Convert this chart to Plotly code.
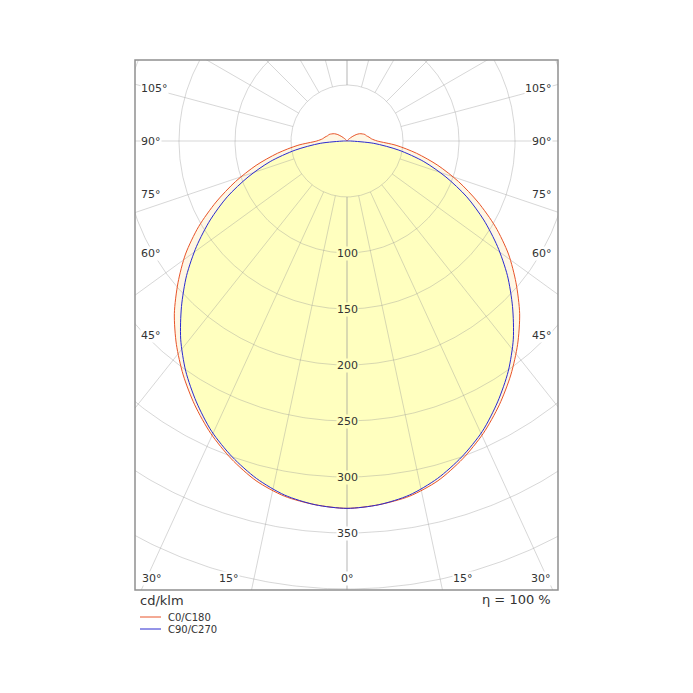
import numpy as np
import plotly.graph_objects as go

# ---------------- data (cd/klm) ----------------
gamma = list(range(0, 181, 5))
c0_c180 = [328, 326, 322, 314, 302, 288, 272, 255, 237, 218, 197, 176, 153, 129,
           106, 84, 63, 44, 27, 22, 20, 18, 17, 15, 13, 10, 6, 3, 1,
           0, 0, 0, 0, 0, 0, 0, 0]
c90_c270 = [328, 326, 321, 312, 300, 286, 269, 251, 231, 209, 187, 164, 141, 118,
            94, 71, 47, 24, 3, 0, 0, 0, 0, 0, 0, 0, 0, 0, 0,
            0, 0, 0, 0, 0, 0, 0, 0]
ring_labels = [100, 150, 200, 250, 300, 350]
side_labels = ["105°", "90°", "75°", "60°", "45°"]
bottom_labels = ["30°", "15°", "0°", "15°", "30°"]
series_names = ["C0/C180", "C90/C270"]
series_colors = ["#e8542a", "#2b2bd0"]

# ---------------- geometry helpers ----------------
def closed_curve(vals):
    g = np.radians(np.array(gamma, dtype=float))
    r = np.array(vals, dtype=float)
    xr, yr = r * np.sin(g), -r * np.cos(g)
    xl, yl = -(r * np.sin(g))[::-1], (-r * np.cos(g))[::-1]
    return np.concatenate([xr, xl]), np.concatenate([yr, yl])

OFF = 8  # default body margin of the page
W = H = 693 - OFF
L, R, T, B = 135, 558, 60, 590  # target pixel box in the window
scale = 1.12  # px per cd/klm
cx, cy = 347, 141
xr0, xr1 = (L - cx) / scale, (R - cx) / scale
yr0, yr1 = -(B - cy) / scale, -(T - cy) / scale

fig = go.Figure()

fills = [("rgba(255,247,228,1)", c0_c180), ("rgb(255,255,191)", c90_c270)]
for col, vals in fills:
    x, y = closed_curve(vals)
    fig.add_trace(go.Scatter(x=x, y=y, mode="lines", fill="toself", fillcolor=col,
                             line=dict(width=0, shape="spline", smoothing=0.8),
                             hoverinfo="skip", showlegend=False))

grid_col = "rgba(150,150,150,0.38)"
t = np.linspace(0, 2 * np.pi, 721)
for rr in range(50, 501, 50):
    fig.add_trace(go.Scatter(x=rr * np.cos(t), y=rr * np.sin(t), mode="lines",
                             line=dict(color=grid_col, width=1), hoverinfo="skip", showlegend=False))

# radial grid: upper half every 15 deg; lower half drawn with the stretched
# spacing seen in the reference
ray_dirs = []
for a in range(90, 181, 15):
    ar = np.radians(a)
    ray_dirs += [(np.sin(ar), -np.cos(ar)), (-np.sin(ar), -np.cos(ar))]
for a in range(0, 90, 15):
    ar = np.radians(a)
    ray_dirs += [(np.sin(ar), -1.26 * np.cos(ar)), (-np.sin(ar), -1.26 * np.cos(ar))]
for dx, dy in ray_dirs:
    n = np.hypot(dx, dy)
    dx, dy = dx / n, dy / n
    fig.add_trace(go.Scatter(x=[50 * dx, 700 * dx], y=[50 * dy, 700 * dy], mode="lines",
                             line=dict(color=grid_col, width=1), hoverinfo="skip", showlegend=False))

for name, col, vals in zip(series_names, series_colors, [c0_c180, c90_c270]):
    x, y = closed_curve(vals)
    fig.add_trace(go.Scatter(x=x, y=y, mode="lines", name=name,
                             line=dict(color=col, width=1, shape="spline", smoothing=0.8),
                             showlegend=False))

font = "DejaVu Sans"
tc = "#333333"
ann = []
for v in ring_labels:
    ann.append(dict(x=0, y=-v, xref="x", yref="y", text=str(v), showarrow=False,
                    xanchor="center", yanchor="middle",
                    font=dict(family=font, size=11, color=tc),
                    bgcolor="rgb(255,255,191)" if v < 330 else "white", borderpad=0))

def px(xp):
    return (xp - L) / (R - L)

def py(yp):
    return (B - yp) / (B - T)

side_y = [88, 141, 194, 253, 335]
for lab, yy in zip(side_labels, side_y):
    ann.append(dict(x=px(140), y=py(yy), xref="paper", yref="paper", text=lab, showarrow=False,
                    xanchor="left", yanchor="middle", font=dict(family=font, size=11, color=tc),
                    bgcolor="white", borderpad=0))
    ann.append(dict(x=px(553), y=py(yy), xref="paper", yref="paper", text=lab, showarrow=False,
                    xanchor="right", yanchor="middle", font=dict(family=font, size=11, color=tc),
                    bgcolor="white", borderpad=0))
bottom_x = [152, 229, 347, 463, 541]
for lab, xx in zip(bottom_labels, bottom_x):
    ann.append(dict(x=px(xx), y=py(578), xref="paper", yref="paper", text=lab, showarrow=False,
                    xanchor="center", yanchor="middle",
                    font=dict(family=font, size=11, color=tc), bgcolor="white", borderpad=0))

ann.append(dict(x=px(138), y=py(600), xref="paper", yref="paper", text="cd/klm", showarrow=False,
                xanchor="left", yanchor="middle", font=dict(family=font, size=13, color=tc)))
ann.append(dict(x=px(553), y=py(599), xref="paper", yref="paper", text="η = 100 %", showarrow=False,
                xanchor="right", yanchor="middle", font=dict(family=font, size=13, color=tc)))
shapes = [dict(type="rect", xref="paper", yref="paper", x0=0, x1=1, y0=0, y1=1,
               line=dict(color="#909090", width=1.5))]
for i, (name, col) in enumerate(zip(series_names, series_colors)):
    yy = 617 + 12 * i
    shapes.append(dict(type="line", xref="paper", yref="paper", x0=px(140), x1=px(161),
                       y0=py(yy), y1=py(yy), line=dict(color=col, width=1)))
    ann.append(dict(x=px(166), y=py(yy), xref="paper", yref="paper", text=name, showarrow=False,
                    xanchor="left", yanchor="middle", font=dict(family=font, size=10, color=tc)))

fig.update_layout(
    width=W, height=H,
    margin=dict(l=L - OFF, r=W + OFF - R, t=T - OFF, b=H + OFF - B),
    paper_bgcolor="white", plot_bgcolor="white",
    xaxis=dict(range=[xr0, xr1], visible=False, fixedrange=True),
    yaxis=dict(range=[yr0, yr1], visible=False, fixedrange=True),
    annotations=ann, shapes=shapes, showlegend=False,
)
fig.write_html("out.html")
